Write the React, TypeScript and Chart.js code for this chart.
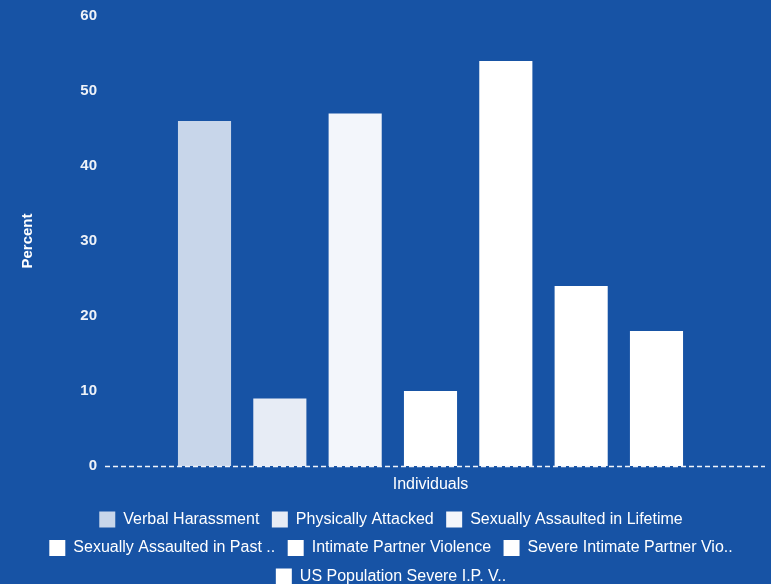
import React, { useEffect, useRef } from "react";
import { Chart, registerables } from "chart.js";

Chart.register(...registerables);

const categories = ["Individuals"];
const seriesNames = [
  "Verbal Harassment",
  "Physically Attacked",
  "Sexually Assaulted in Lifetime",
  "Sexually Assaulted in Past ..",
  "Intimate Partner Violence",
  "Severe Intimate Partner Vio..",
  "US Population Severe I.P. V..",
];
const seriesValues = [46, 9, 47, 10, 54, 24, 18];
const seriesColors = [
  "#c8d6ea",
  "#e7ecf5",
  "#f3f6fb",
  "#ffffff",
  "#ffffff",
  "#ffffff",
  "#ffffff",
];
const yTicks = [0, 10, 20, 30, 40, 50, 60];

const BG = "#1753a5";
const FONT = "'Liberation Sans', Arial, sans-serif";

// Dashed baseline at y = 0, running a little past the plot area
const zeroLine = {
  id: "zeroLine",
  afterDatasetsDraw(chart: any) {
    const { ctx, chartArea, scales } = chart;
    const y = Math.round(scales.y.getPixelForValue(0)) + 0.5;
    ctx.save();
    ctx.strokeStyle = "rgba(240,244,251,1)";
    ctx.lineWidth = 1.7;
    ctx.setLineDash([5, 3]);
    ctx.beginPath();
    ctx.moveTo(chartArea.left, y);
    ctx.lineTo(chartArea.right + 9, y);
    ctx.stroke();
    ctx.restore();
  },
};

// Legend rows sit close to the bottom edge: trim the space reserved for the
// legend so the trailing padding below the last row is not kept, and centre
// the rows on the full canvas width rather than the padded layout width.
const LEGEND_HEIGHT = 85;
const LEGEND_SHIFT_X = 13;
const legendFit = {
  id: "legendFit",
  beforeLayout(chart: any) {
    const lg = chart.legend;
    if (lg && !lg.__trimmed) {
      const fit = lg.fit.bind(lg);
      lg.fit = () => {
        fit();
        lg.height = Math.min(lg.height, LEGEND_HEIGHT);
      };
      lg.__trimmed = true;
    }
  },
  afterLayout(chart: any) {
    const lg = chart.legend;
    if (lg) {
      lg.left += LEGEND_SHIFT_X;
      lg.right += LEGEND_SHIFT_X;
    }
  },
};

export default function App() {
  const ref = useRef<HTMLCanvasElement | null>(null);

  useEffect(() => {
    if (!ref.current) return;
    const chart = new Chart(ref.current, {
      type: "bar",
      data: {
        labels: categories,
        datasets: seriesNames.map((name, i) => ({
          label: name,
          data: [seriesValues[i]],
          backgroundColor: seriesColors[i],
          borderWidth: 0,
          categoryPercentage: 0.81,
          barPercentage: 0.705,
        })),
      },
      options: {
        responsive: false,
        animation: false,
        layout: { padding: { left: 0, right: 15, top: 16, bottom: 0 } },
        plugins: {
          tooltip: { enabled: false },
          legend: {
            position: "bottom",
            labels: {
              color: "#ffffff",
              boxWidth: 16,
              boxHeight: 16,
              padding: 12.5,
              font: { family: FONT, size: 16 },
            },
          },
        },
        scales: {
          x: {
            grid: { display: false, drawTicks: false },
            border: { display: false },
            ticks: {
              color: "#ffffff",
              padding: 9,
              font: { family: FONT, size: 16 },
            },
            afterFit(scale: any) {
              scale.height = 33;
            },
          },
          y: {
            min: 0,
            max: 60,
            grid: { display: false },
            border: { display: false },
            afterBuildTicks(scale: any) {
              scale.ticks = yTicks.map((v) => ({ value: v }));
            },
            ticks: {
              color: "#eef2f8",
              padding: 0,
              font: { family: FONT, size: 15, weight: "bold" },
            },
            title: {
              display: true,
              text: "Percent",
              color: "#ffffff",
              padding: { top: 19, bottom: 0 },
              font: { family: FONT, size: 15, weight: "bold" },
            },
            afterFit(scale: any) {
              scale.width = 105;
            },
          },
        },
      },
      plugins: [zeroLine, legendFit],
    });
    return () => chart.destroy();
  }, []);

  return (
    <div
      style={{
        position: "absolute",
        left: 0,
        top: 0,
        width: 771,
        height: 584,
        background: BG,
      }}
    >
      <canvas ref={ref} width={771} height={584} />
    </div>
  );
}
